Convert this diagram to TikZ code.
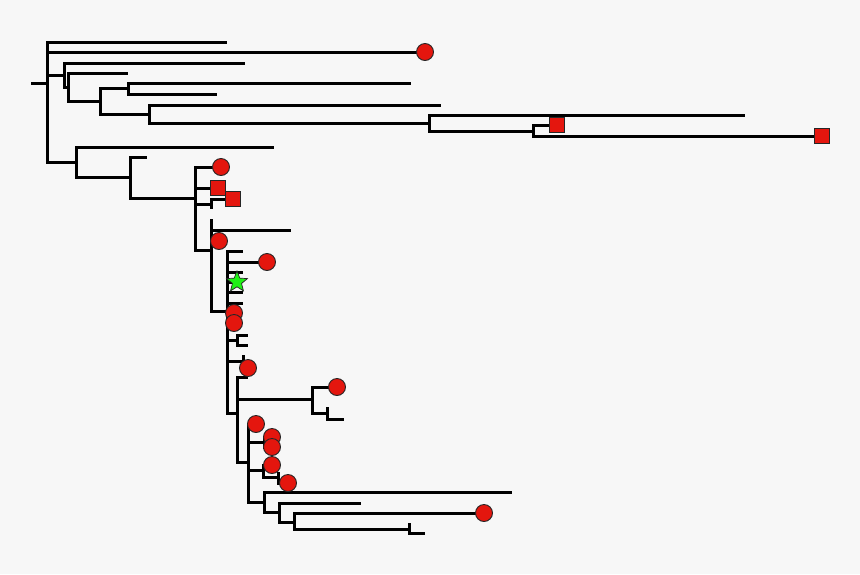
\documentclass[tikz,border=0pt]{standalone}
\usetikzlibrary{shapes.geometric}
\definecolor{bg}{RGB}{247,247,247}
\definecolor{mred}{RGB}{228,22,14}
\definecolor{mgreen}{RGB}{30,240,20}
\tikzset{
  edge/.style={line width=3pt, line join=miter, line cap=butt, black},
  dotmark/.style={circle, fill=mred, draw=black!85, line width=0.9pt, minimum size=17pt, inner sep=0pt},
  sqmark/.style={rectangle, fill=mred, draw=black!85, line width=0.9pt, minimum size=14.5pt, inner sep=0pt},
  starmark/.style={star, star points=5, star point ratio=2.3, fill=mgreen, draw=black!85, line width=0.7pt, minimum size=22pt, inner sep=0pt},
}
\begin{document}
\begin{tikzpicture}[x=1pt,y=-1pt]
\fill[bg] (0,0) rectangle (860,574);
\useasboundingbox (0,0) rectangle (860,574);
% internal nodes
\coordinate (stem) at (31,83);
\coordinate (r0) at (47,83);
\coordinate (n1) at (64,75);
\coordinate (n2) at (76,162);
\coordinate (n3) at (68,87);
\coordinate (n4) at (100,101);
\coordinate (n5) at (128,88);
\coordinate (n6) at (149,114);
\coordinate (n7) at (429,123);
\coordinate (n8) at (533,131);
\coordinate (n9) at (130,177);
\coordinate (n10) at (195,198);
\coordinate (n11) at (211,204);
\coordinate (n12) at (211,250);
\coordinate (n13) at (227,311);
\coordinate (n14) at (237,340);
\coordinate (n15) at (243,361);
\coordinate (n16) at (237,413);
\coordinate (n17) at (312,399);
\coordinate (n18) at (248,462);
\coordinate (n19) at (327,413);
\coordinate (n20) at (264,442);
\coordinate (n21) at (263,470);
\coordinate (n22) at (264,502);
\coordinate (n23) at (278,477);
\coordinate (n24) at (279,512);
\coordinate (n25) at (294,522);
\coordinate (n26) at (409,529);
% leaves
\coordinate (L1) at (227,42);
\coordinate (L2) at (425,52);
\coordinate (L3) at (245,63);
\coordinate (L4) at (128,73);
\coordinate (L5) at (411,83);
\coordinate (L6) at (217,94);
\coordinate (L7) at (441,105);
\coordinate (L8) at (745,115);
\coordinate (L9) at (557,125);
\coordinate (L10) at (822,136);
\coordinate (L11) at (274,147);
\coordinate (L12) at (147,157);
\coordinate (L13) at (221,167);
\coordinate (L14) at (218,188);
\coordinate (L15) at (233,199);
\coordinate (L16) at (211,209);
\coordinate (L17) at (211,219);
\coordinate (L18) at (291,230);
\coordinate (L19) at (219,241);
\coordinate (L20) at (243,251);
\coordinate (L21) at (267,262);
\coordinate (L22) at (243,272);
\coordinate (L23) at (237,282);
\coordinate (L24) at (243,292);
\coordinate (L25) at (243,303);
\coordinate (L26) at (234,313);
\coordinate (L27) at (234,323);
\coordinate (L28) at (248,335);
\coordinate (L29) at (248,345);
\coordinate (L30) at (243,355);
\coordinate (L31) at (248,368);
\coordinate (L32) at (248,377);
\coordinate (L33) at (337,387);
\coordinate (L34) at (327,407);
\coordinate (L35) at (344,419);
\coordinate (L36) at (256,424);
\coordinate (L37) at (272,437);
\coordinate (L38) at (272,447);
\coordinate (L39) at (272,465);
\coordinate (L40) at (278,472);
\coordinate (L41) at (288,483);
\coordinate (L42) at (512,492);
\coordinate (L43) at (361,503);
\coordinate (L44) at (484,513);
\coordinate (L45) at (409,523);
\coordinate (L46) at (425,533);
% edges
\draw[edge] (stem) -- (r0);
\foreach \p/\c in {r0/L1, r0/L2, r0/n1, r0/n2,
  n1/L3, n1/n3, n3/L4, n3/n4, n4/n5, n4/n6, n5/L5, n5/L6,
  n6/L7, n6/n7, n7/L8, n7/n8, n8/L9, n8/L10,
  n2/L11, n2/n9, n9/L12, n9/n10,
  n10/L13, n10/L14, n10/n11, n10/n12, n11/L15, n11/L16,
  n12/L17, n12/L18, n12/L19, n12/n13,
  n13/L20, n13/L21, n13/L22, n13/L23, n13/L24, n13/L25, n13/L26, n13/L27,
  n13/n14, n13/n15, n13/n16, n14/L28, n14/L29, n15/L30, n15/L31,
  n16/L32, n16/n17, n16/n18, n17/L33, n17/n19, n19/L34, n19/L35,
  n18/L36, n18/n20, n18/n21, n18/n22, n20/L37, n20/L38,
  n21/L39, n21/n23, n23/L40, n23/L41,
  n22/L42, n22/n24, n24/L43, n24/n25, n25/L44, n25/n26, n26/L45, n26/L46}
  \draw[edge] (\p) |- (\c);
% markers
\node[dotmark] (m2) at (L2) {};
\node[sqmark] (m9) at (L9) {};
\node[sqmark] (m10) at (L10) {};
\node[dotmark] (m13) at (L13) {};
\node[sqmark] (m14) at (L14) {};
\node[sqmark] (m15) at (L15) {};
\node[dotmark] (m19) at (L19) {};
\node[dotmark] (m21) at (L21) {};
\node[starmark] (m23) at (L23) {};
\node[dotmark] (m26) at (L26) {};
\node[dotmark] (m27) at (L27) {};
\node[dotmark] (m31) at (L31) {};
\node[dotmark] (m33) at (L33) {};
\node[dotmark] (m36) at (L36) {};
\node[dotmark] (m37) at (L37) {};
\node[dotmark] (m38) at (L38) {};
\node[dotmark] (m39) at (L39) {};
\node[dotmark] (m41) at (L41) {};
\node[dotmark] (m44) at (L44) {};
\end{tikzpicture}
\end{document}
